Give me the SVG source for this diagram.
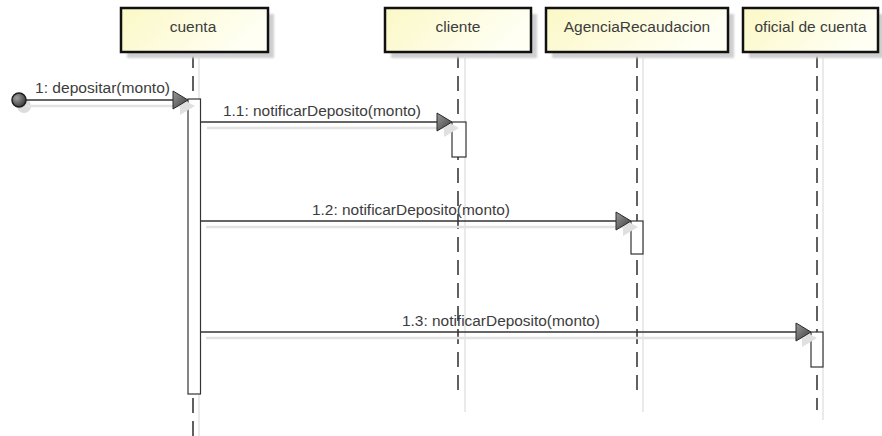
<svg xmlns="http://www.w3.org/2000/svg" width="882" height="436" viewBox="0 0 882 436">
<defs>
<linearGradient id="boxg" x1="0" y1="0" x2="1" y2="0.3">
<stop offset="0" stop-color="#fbf8c6"/>
<stop offset="1" stop-color="#fffff4"/>
</linearGradient>
<linearGradient id="arrg" x1="0" y1="0" x2="1" y2="1">
<stop offset="0" stop-color="#9a9a9a"/>
<stop offset="1" stop-color="#3c3c3c"/>
</linearGradient>
<radialGradient id="dotg" cx="0.35" cy="0.35" r="0.7">
<stop offset="0" stop-color="#a0a0a0"/>
<stop offset="1" stop-color="#3a3a3a"/>
</radialGradient>
<filter id="blur" x="-20%" y="-20%" width="140%" height="140%"><feGaussianBlur stdDeviation="1.2"/></filter>
</defs>
<style>
.box{fill:url(#boxg);stroke:#111;stroke-width:2.5}
.shadow{fill:#cfcfcf;filter:url(#blur)}
.lbl{font-family:"Liberation Sans",Arial,sans-serif;font-size:15.5px;fill:#3c3c3c}
.life{stroke:#3a3a3a;stroke-width:1.6;stroke-dasharray:15 8;fill:none}
.lifesh{stroke:#e3e3e3;stroke-width:1.5;fill:none}
.act{fill:#fff;stroke:#333;stroke-width:1.2}
.msg{stroke:#333;stroke-width:1.5;fill:none}
.msgsh{stroke:#e2e2e2;stroke-width:2.5;fill:none}
.head{fill:url(#arrg);stroke:#2a2a2a;stroke-width:1}
.headsh{fill:#e0e0e0}
</style>

<g id="lifelines">
<line class="lifesh" x1="199" y1="58" x2="199" y2="436"/>
<line class="lifesh" x1="465" y1="58" x2="465" y2="412"/>
<line class="lifesh" x1="643" y1="58" x2="643" y2="412"/>
<line class="lifesh" x1="823" y1="58" x2="823" y2="420"/>
<line class="life" x1="193" y1="53" x2="193" y2="436"/>
<line class="life" x1="458" y1="53" x2="458" y2="397"/>
<line class="life" x1="637" y1="53" x2="637" y2="397"/>
<line class="life" x1="817" y1="53" x2="817" y2="410"/>
</g>

<g id="cuenta">
<rect class="shadow" x="127" y="14" width="147" height="44"/>
<rect class="box" x="121" y="8" width="147" height="44"/>
<text class="lbl" x="193" y="32" text-anchor="middle">cuenta</text>
</g>
<g id="cliente">
<rect class="shadow" x="391" y="14" width="146" height="44"/>
<rect class="box" x="385" y="8" width="146" height="44"/>
<text class="lbl" x="458" y="32" text-anchor="middle">cliente</text>
</g>
<g id="AgenciaRecaudacion">
<rect class="shadow" x="552" y="14" width="182" height="44"/>
<rect class="box" x="546" y="8" width="182" height="44"/>
<text class="lbl" x="637" y="32" text-anchor="middle">AgenciaRecaudacion</text>
</g>
<g id="oficial">
<rect class="shadow" x="749" y="14" width="135" height="44"/>
<rect class="box" x="743" y="8" width="135" height="44"/>
<text class="lbl" x="810.5" y="32" text-anchor="middle">oficial de cuenta</text>
</g>

<g id="activations">
<rect class="act" x="188" y="99" width="12.5" height="295"/>
<rect class="act" x="452" y="122" width="14" height="35"/>
<rect class="act" x="631" y="221" width="12" height="33"/>
<rect class="act" x="811" y="332" width="12" height="35"/>
</g>

<g id="connectors">
<circle cx="24" cy="106" r="7" fill="#dcdcdc"/>
<line class="msgsh" x1="26" y1="106" x2="190" y2="106"/>
<polygon class="headsh" points="180,98 195,106 180,115"/>
<line class="msgsh" x1="207" y1="128" x2="455" y2="128"/>
<polygon class="headsh" points="444,120 459,128 444,137"/>
<line class="msgsh" x1="206" y1="227" x2="635" y2="227"/>
<polygon class="headsh" points="623,219 638,227 623,236"/>
<line class="msgsh" x1="206" y1="338" x2="813" y2="338"/>
<polygon class="headsh" points="802,330 817,338 802,347"/>

<line class="msg" x1="20" y1="100" x2="175" y2="100"/>
<circle cx="19" cy="100" r="7" fill="url(#dotg)" stroke="#1e1e1e" stroke-width="1.5"/>
<polygon class="head" points="173,91 188,100 173,109"/>
<text class="lbl" x="35" y="93" textLength="135" lengthAdjust="spacingAndGlyphs">1: depositar(monto)</text>

<line class="msg" x1="200.5" y1="122" x2="438" y2="122"/>
<polygon class="head" points="437,113 452,122 437,131"/>
<text class="lbl" x="223" y="116" textLength="198" lengthAdjust="spacingAndGlyphs">1.1: notificarDeposito(monto)</text>

<line class="msg" x1="200.5" y1="221" x2="617" y2="221"/>
<polygon class="head" points="616,212 631,221 616,230"/>
<text class="lbl" x="312" y="215" textLength="198" lengthAdjust="spacingAndGlyphs">1.2: notificarDeposito(monto)</text>

<line class="msg" x1="200.5" y1="332" x2="797" y2="332"/>
<polygon class="head" points="796,323 811,332 796,341"/>
<text class="lbl" x="402" y="326" textLength="198" lengthAdjust="spacingAndGlyphs">1.3: notificarDeposito(monto)</text>
</g>
</svg>
